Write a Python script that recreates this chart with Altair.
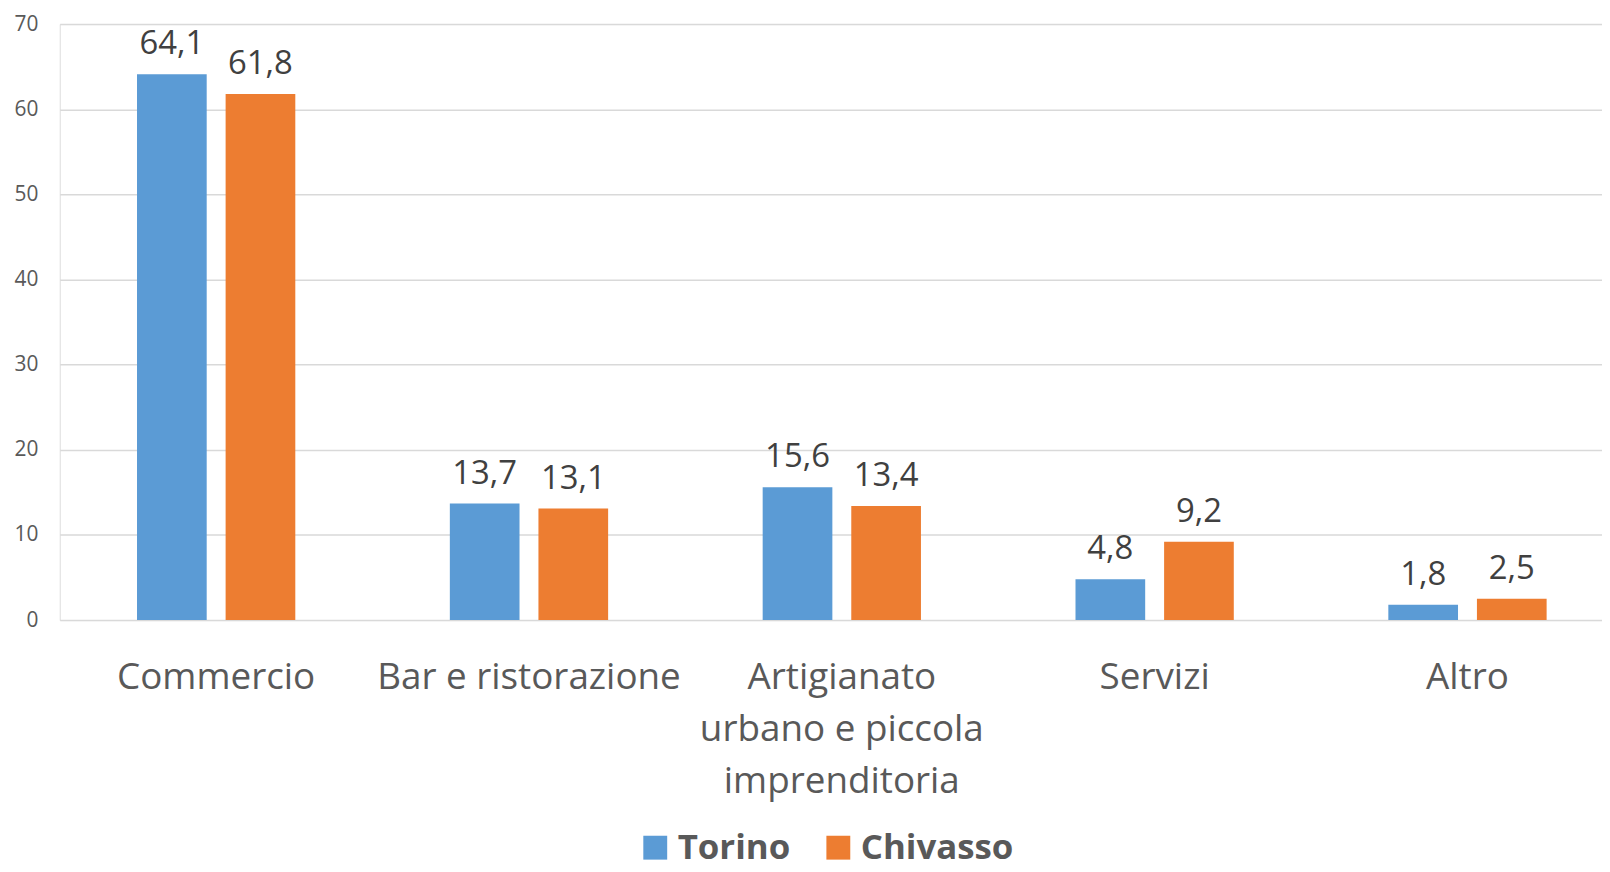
import altair as alt
import pandas as pd

categories = ["Commercio", "Bar e ristorazione", "Artigianato urbano e piccola imprenditoria", "Servizi", "Altro"]
series = ["Torino", "Chivasso"]
torino = [64.1, 13.7, 15.6, 4.8, 1.8]
chivasso = [61.8, 13.1, 13.4, 9.2, 2.5]
y_ticks = [0, 10, 20, 30, 40, 50, 60, 70]
colors = ["#5B9BD5", "#ED7D31"]

rows = []
for i, c in enumerate(categories):
    rows.append({"cat": c, "serie": "Torino", "value": torino[i]})
    rows.append({"cat": c, "serie": "Chivasso", "value": chivasso[i]})
df = pd.DataFrame(rows)

FONT = "Open Sans"

x = alt.X("cat:N", sort=categories, title=None,
          scale=alt.Scale(paddingInner=0.494, paddingOuter=0.247),
          axis=alt.Axis(labelAngle=0, labelFontSize=37, labelColor="#595959", labelFont=FONT,
                        labelLineHeight=52, labelBaseline="top", labelPadding=40, labelLimit=0,
                        ticks=False, domain=False, grid=False,
                        labelExpr="datum.label == 'Artigianato urbano e piccola imprenditoria' ? ['Artigianato', 'urbano e piccola', 'imprenditoria'] : datum.label"))
xo = alt.XOffset("serie:N", sort=series, scale=alt.Scale(paddingInner=0.2135, paddingOuter=0))
y = alt.Y("value:Q", title=None,
          scale=alt.Scale(domain=[0, 70], nice=False),
          axis=alt.Axis(values=y_ticks, labelFontSize=21, labelColor="#595959", labelFont=FONT,
                        labelPadding=22, ticks=False, domain=False, grid=True,
                        gridColor="#D9D9D9", gridWidth=1.5))

base = alt.Chart(df).encode(x=x, xOffset=xo)

bars = base.mark_bar().encode(
    y=y,
    color=alt.Color("serie:N", sort=series, scale=alt.Scale(domain=series, range=colors),
                    legend=alt.Legend(title=None, orient="none", direction="horizontal",
                                      legendX=581, legendY=810,
                                      labelFontSize=35, labelFont=FONT, labelFontWeight="bold",
                                      labelColor="#595959", symbolType="square", symbolSize=576,
                                      symbolStrokeWidth=0, labelOffset=5, columnPadding=30)),
)

labels = base.mark_text(baseline="alphabetic", dy=-20, fontSize=33, font=FONT, color="#404040").encode(
    y=alt.Y("value:Q"),
    text="label:N",
).transform_calculate(label="replace(format(datum.value, '.1f'), '.', ',')")

chart = (bars + labels).properties(
    width=1572, height=599,
    autosize=alt.AutoSizeParams(type="none"),
    padding={"left": 52, "top": 14, "right": -22, "bottom": 243},
).configure_view(stroke=None).configure(font=FONT)

chart.save("out.html", embed_options={"renderer": "svg", "actions": False})
